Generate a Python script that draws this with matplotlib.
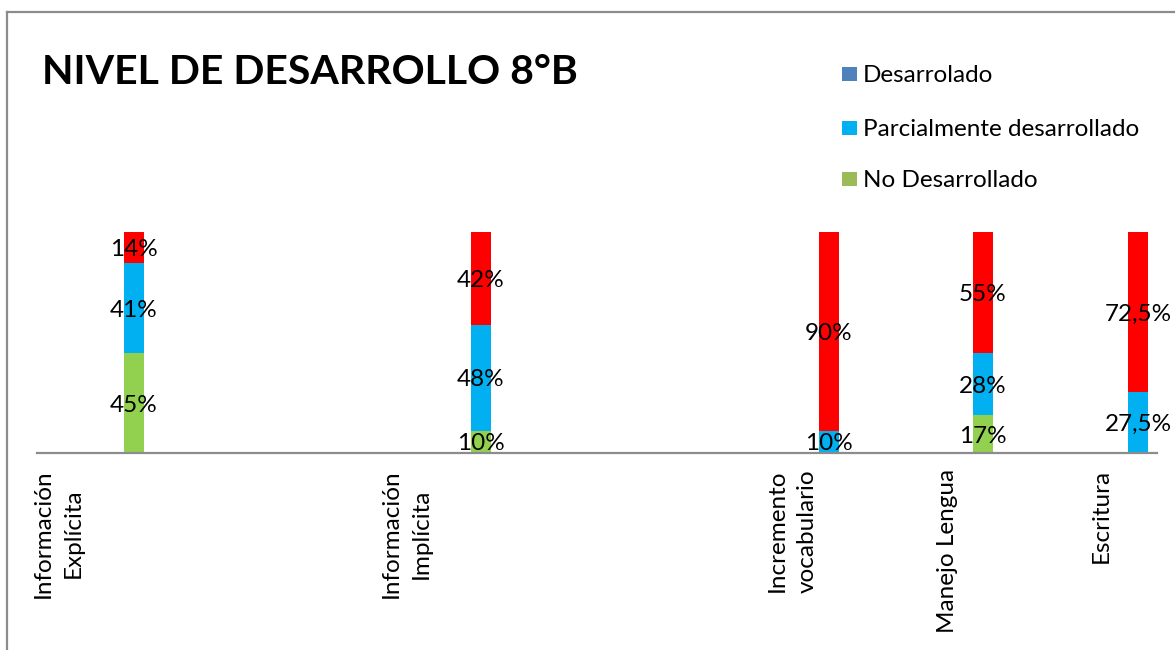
import matplotlib
matplotlib.use("Agg")
import matplotlib.pyplot as plt
from matplotlib.patches import Rectangle
from matplotlib.lines import Line2D

plt.rcParams['font.family'] = ['Lato', 'DejaVu Sans']

# ---- data -------------------------------------------------------------
categories = ["Información\nExplícita", "Información\nImplícita",
              "Incremento\nvocabulario", "Manejo Lengua", "Escritura"]
no_desarrollado = [45, 10, 0, 17, 0]
parcialmente = [41, 48, 10, 28, 27.5]
desarrollado = [14, 42, 90, 55, 72.5]   # top segment, drawn in red
legend_labels = ["Desarrolado", "Parcialmente desarrollado", "No Desarrollado"]

# ---- layout ------------------------------------------------------------
W, H = 1175, 650
bar_x = [96.5, 444, 792, 946, 1101]     # bar centres along the category axis
tick_x = [21, 369, 755, 910, 1064]      # where the category names sit
bar_w = 20

c_red = "#FF0000"
c_blue = "#00B0F0"
c_green = "#92D050"
c_leg = ["#4F81BD", "#00B0F0", "#9BBB59"]


def fmt(v):
    s = f"{v:g}".replace(".", ",")
    return s + "%"


fig = plt.figure(figsize=(W / 100, H / 100), dpi=100)
fig.patch.set_facecolor("white")

# outer chart frame (top and left edges)
fig.add_artist(Line2D([7 / W, 7 / W], [0, 1 - 12 / H], transform=fig.transFigure,
                      color="#8C8C8C", lw=1.6))
fig.add_artist(Line2D([7 / W, 1], [1 - 12 / H, 1 - 12 / H], transform=fig.transFigure,
                      color="#8C8C8C", lw=1.6))

ax = fig.add_axes([37 / W, (H - 452.7) / H, 1120 / W, 220.7 / H])
ax.set_xlim(0, 1120)
ax.set_ylim(0, 100)
ax.patch.set_alpha(0)
for side in ("top", "right", "left"):
    ax.spines[side].set_visible(False)
ax.spines["bottom"].set_color("#8C8C8C")
ax.spines["bottom"].set_linewidth(1.6)
ax.set_yticks([])

b1 = ax.bar(bar_x, no_desarrollado, width=bar_w, color=c_green)
bottom2 = no_desarrollado
b2 = ax.bar(bar_x, parcialmente, width=bar_w, bottom=bottom2, color=c_blue)
bottom3 = [a + b for a, b in zip(no_desarrollado, parcialmente)]
b3 = ax.bar(bar_x, desarrollado, width=bar_w, bottom=bottom3, color=c_red)

for x, vals, bots in zip(bar_x,
                         zip(no_desarrollado, parcialmente, desarrollado),
                         zip([0] * 5, bottom2, bottom3)):
    for v, b in zip(vals, bots):
        if v > 0:
            ax.text(x, b + v / 2 - 1, fmt(v), ha="center", va="center",
                    fontsize=17.5, color="black")

ax.set_xticks(tick_x)
ax.set_xticklabels(categories, rotation=90, ha="center", va="top",
                   multialignment="center", fontsize=17.5, linespacing=1.55)
ax.tick_params(axis="x", length=0, pad=12)

# title
fig.text(42 / W, 1 - 83.5 / H, "NIVEL DE DESARROLLO 8°B", fontsize=29.5,
         fontweight="bold", ha="left", va="baseline")

# legend
rows = [74, 127.5, 179]
for y, lab, col in zip(rows, legend_labels, c_leg):
    fig.add_artist(Rectangle((842 / W, 1 - (y + 7) / H), 15 / W, 14 / H,
                             transform=fig.transFigure, color=col, lw=0))
    fig.text(863 / W, 1 - y / H, lab, fontsize=17.5, ha="left", va="center_baseline")

fig.savefig("out.png", dpi=100)
